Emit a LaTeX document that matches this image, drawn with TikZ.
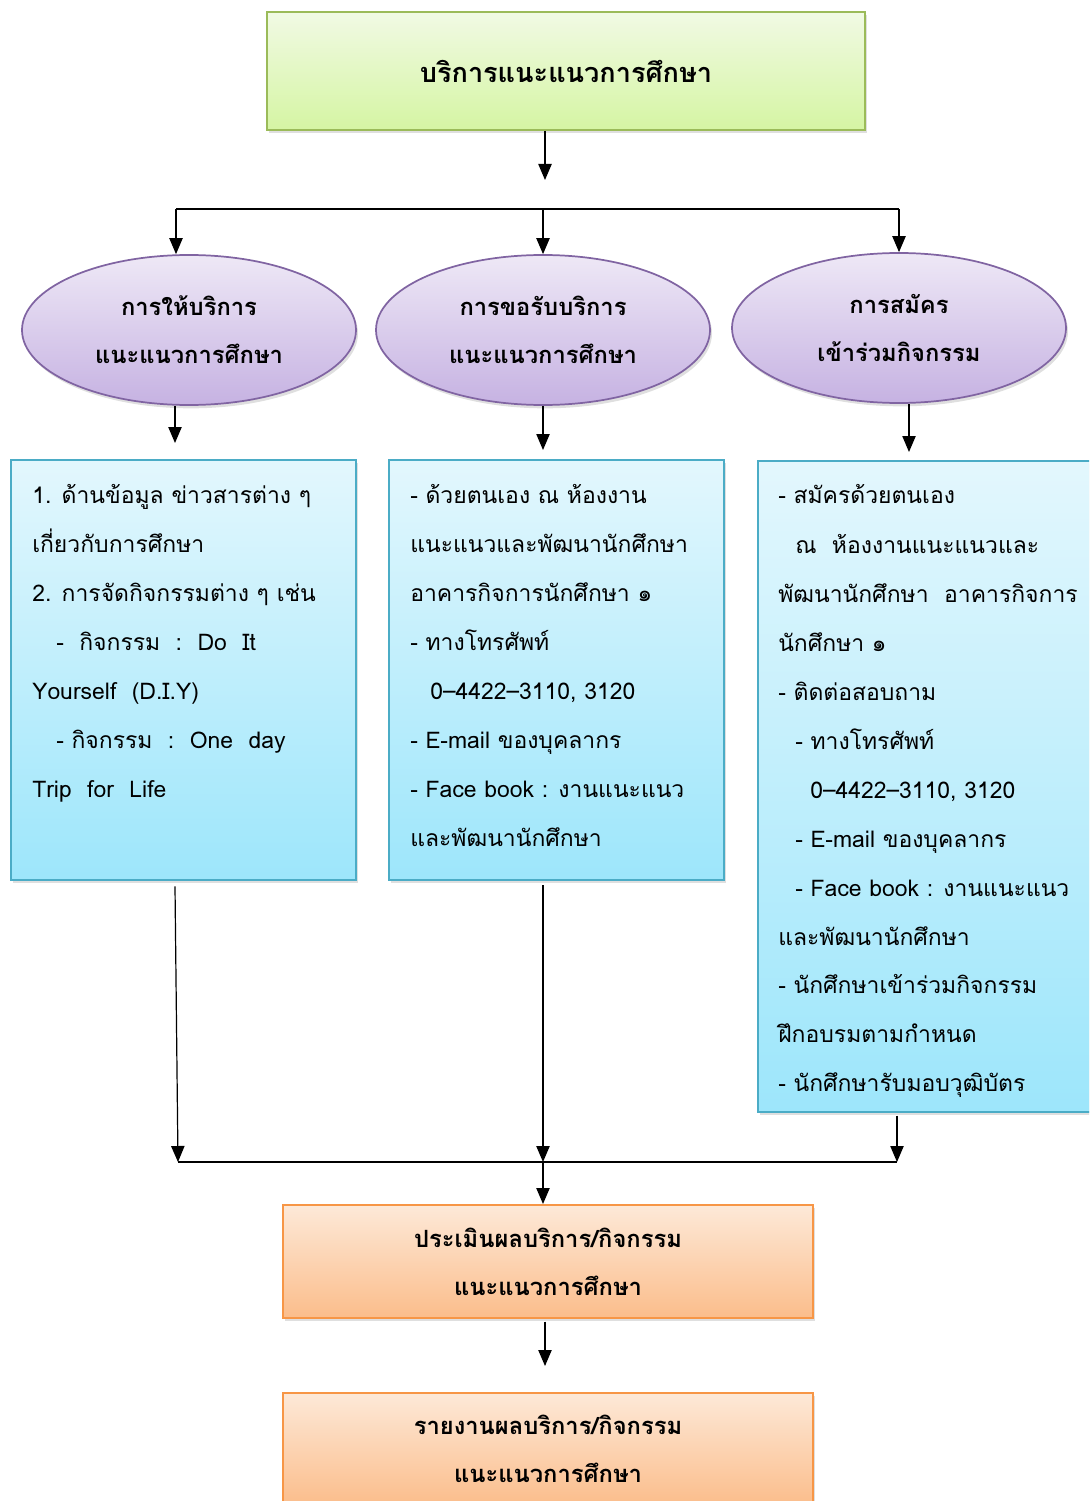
\documentclass[tikz,border=0pt]{standalone}
\usepackage{fontspec}
\setmainfont[Script=Thai]{Loma}
\usetikzlibrary{shapes.geometric,arrows.meta,shadows}
\definecolor{gtop}{HTML}{F1FAE4}
\definecolor{gbot}{HTML}{D5F5A3}
\definecolor{gbrd}{HTML}{9BBB59}
\definecolor{ptop}{HTML}{EEE8F6}
\definecolor{pbot}{HTML}{C6B2E2}
\definecolor{pbrd}{HTML}{8064A2}
\definecolor{btop}{HTML}{E3F7FD}
\definecolor{bbot}{HTML}{9DE6FB}
\definecolor{bbrd}{HTML}{4BACC6}
\definecolor{otop}{HTML}{FDE9D8}
\definecolor{obot}{HTML}{FBBD8B}
\definecolor{obrd}{HTML}{F79646}
\tikzset{
  shad/.style={drop shadow={shadow xshift=1.5pt, shadow yshift=-2.5pt, opacity=0.25}},
  greenbox/.style={rectangle, draw=gbrd, line width=1.5pt, top color=gtop, bottom color=gbot, shad},
  purpell/.style={ellipse, draw=pbrd, line width=1.3pt, top color=ptop, bottom color=pbot, shad,
    minimum width=334*0.75pt, minimum height=150*0.75pt, inner sep=0pt},
  bluebox/.style={rectangle, draw=bbrd, line width=1.5pt, top color=btop, bottom color=bbot, shad},
  orangebox/.style={rectangle, draw=obrd, line width=1.5pt, top color=otop, bottom color=obot, shad},
  hd/.style={font=\fontsize{17.8}{36}\selectfont\bfseries, align=center},
  hdbig/.style={font=\fontsize{20.3}{36}\selectfont\bfseries, align=center},
  bt/.style={font=\fontsize{17.2}{20}\selectfont, anchor=base west, inner sep=0pt},
  arr/.style={-{Triangle[length=12pt,width=10pt]}, line width=0.9pt},
  ln/.style={line width=0.9pt}
}
\begin{document}
\begin{tikzpicture}[x=0.75pt,y=-0.75pt]
\path[use as bounding box, clip] (0,0) rectangle (1089,1501);
% top
\node[greenbox, hdbig, minimum width=598*0.75pt, minimum height=118*0.75pt] (top) at (566,71) {บริการแนะแนวการศึกษา};
% ellipses
\node[purpell, hd] (e1) at (189,330) {การให้บริการ\\แนะแนวการศึกษา};
\node[purpell, hd] (e2) at (543,330) {การขอรับบริการ\\แนะแนวการศึกษา};
\node[purpell, hd] (e3) at (899,328) {การสมัคร\\เข้าร่วมกิจกรรม};
% blue boxes
\node[bluebox, minimum width=345*0.75pt, minimum height=420*0.75pt] (b1) at (183.5,670) {};
\node[bluebox, minimum width=335*0.75pt, minimum height=420*0.75pt] (b2) at (556.5,670) {};
\node[bluebox, minimum width=337*0.75pt, minimum height=651*0.75pt] (b3) at (926.5,786.5) {};
% orange boxes
\node[orangebox, hd, minimum width=530*0.75pt, minimum height=113*0.75pt] (o1) at (548,1261.5) {ประเมินผลบริการ/กิจกรรม\\แนะแนวการศึกษา};
\node[orangebox, hd, minimum width=530*0.75pt, minimum height=113*0.75pt] (o2) at (548,1449) {รายงานผลบริการ/กิจกรรม\\แนะแนวการศึกษา};
% text left box
\node[bt] (l1) at (32,503) {1. ด้านข้อมูล ข่าวสารต่าง ๆ};
\node[bt] (l2) at (32,552) {เกี่ยวกับการศึกษา};
\node[bt] (l3) at (32,601) {2. การจัดกิจกรรมต่าง ๆ เช่น};
\node[bt] (l4) at (56,650) {-~~กิจกรรม~~:~~Do~~It};
\node[bt] (l5) at (32,699) {Yourself~~(D.I.Y)};
\node[bt] (l6) at (56,748) {- กิจกรรม~~:~~One~~day};
\node[bt] (l7) at (32,797) {Trip~~for~~Life};
% text middle box
\node[bt] (m1) at (410,503) {- ด้วยตนเอง ณ ห้องงาน};
\node[bt] (m2) at (410,552) {แนะแนวและพัฒนานักศึกษา};
\node[bt] (m3) at (410,601) {อาคารกิจการนักศึกษา ๑};
\node[bt] (m4) at (410,650) {- ทางโทรศัพท์};
\node[bt] (m5) at (430,699) {0–4422–3110, 3120};
\node[bt] (m6) at (410,748) {- E-mail ของบุคลากร};
\node[bt] (m7) at (410,797) {- Face book : งานแนะแนว};
\node[bt] (m8) at (410,846) {และพัฒนานักศึกษา};
% text right box
\node[bt] (r1) at (778,503) {- สมัครด้วยตนเอง};
\node[bt] (r2) at (795,553) {ณ~~ห้องงานแนะแนวและ};
\node[bt] (r3) at (778,602) {พัฒนานักศึกษา~~อาคารกิจการ};
\node[bt] (r4) at (778,651) {นักศึกษา ๑};
\node[bt] (r5) at (778,700) {- ติดต่อสอบถาม};
\node[bt] (r6) at (795,749) {- ทางโทรศัพท์};
\node[bt] (r7) at (810,798) {0–4422–3110, 3120};
\node[bt] (r8) at (795,847) {- E-mail ของบุคลากร};
\node[bt] (r9) at (795,896) {- Face book : งานแนะแนว};
\node[bt] (r10) at (778,945) {และพัฒนานักศึกษา};
\node[bt] (r11) at (778,993) {- นักศึกษาเข้าร่วมกิจกรรม};
\node[bt] (r12) at (778,1042) {ฝึกอบรมตามกำหนด};
\node[bt] (r13) at (778,1091) {- นักศึกษารับมอบวุฒิบัตร};
% coordinates
\coordinate (a1) at (545,180);
\coordinate (hl) at (176,209);
\coordinate (hm) at (543,209);
\coordinate (hr) at (899,209);
\coordinate (d1) at (175,443);
\coordinate (d2) at (543,450);
\coordinate (d3) at (909,452);
\coordinate (j1) at (178,1162);
\coordinate (j2) at (543,1162);
\coordinate (j3) at (897,1162);
\coordinate (a5) at (545,1366);
% connectors
\draw[arr] (top.south -| a1) -- (a1);
\draw[ln] (hl) -- (hr);
\draw[arr] (hl) -- (hl |- e1.north);
\draw[arr] (hm) -- (e2.north);
\draw[arr] (hr) -- (e3.north);
\draw[arr] (e1.south -| d1) -- (d1);
\draw[arr] (e2.south -| d2) -- (d2);
\draw[arr] (e3.south -| d3) -- (d3);
\draw[arr] ([yshift=-4pt]b1.south -| 175,0) -- (j1);
\draw[arr] ([yshift=-3pt]b2.south -| j2) -- (j2);
\draw[arr] ([yshift=-2pt]b3.south -| j3) -- (j3);
\draw[ln] (j1) -- (j3);
\draw[arr] (j2) -- (j2 |- o1.north);
\draw[arr] ([yshift=-2pt]o1.south -| a5) -- (a5);
\end{tikzpicture}
\end{document}
